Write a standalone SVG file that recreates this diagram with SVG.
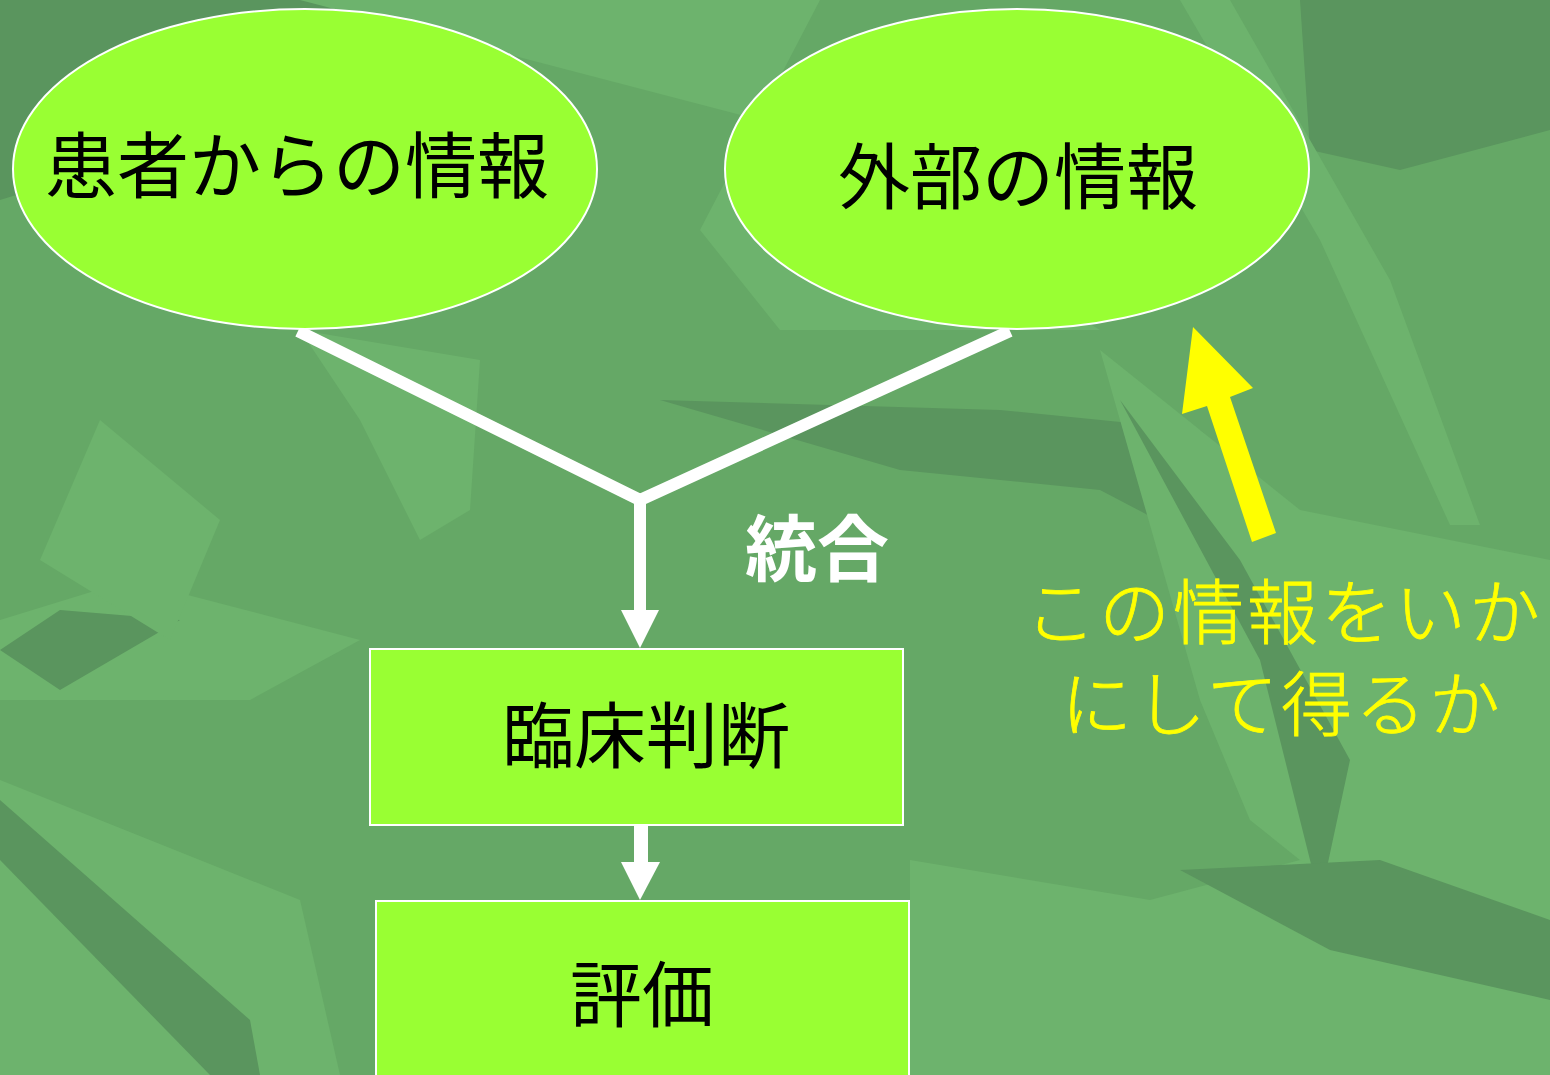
<svg xmlns="http://www.w3.org/2000/svg" width="1550" height="1075" viewBox="0 0 1550 1075">
<style>
.node{fill:#99ff33;stroke:#ffffff;stroke-width:2}
.lbl{font-family:"Noto Sans CJK JP","Noto Sans CJK SC",sans-serif;font-size:72px;fill:#000;text-anchor:middle}
.wlbl{font-family:"Noto Sans CJK JP",sans-serif;font-size:72px;font-weight:bold;fill:#fff;text-anchor:middle}
.ylbl{font-family:"Noto Sans CJK JP",sans-serif;font-size:71px;font-weight:300;fill:#ffff00;text-anchor:middle;letter-spacing:3px;stroke:#ffff00;stroke-width:0.8}
.leafL{fill:#6db36d}
.leafD{fill:#5a955e}
</style>
<g id="background">
<rect x="0" y="0" width="1550" height="1075" fill="#65a866"/>
<polygon class="leafD" points="0,0 420,0 260,120 0,200"/>
<polygon class="leafL" points="300,0 820,0 700,230 780,330 1100,330 1000,270 760,120"/>
<polygon class="leafD" points="1300,0 1550,0 1550,130 1400,170 1310,150"/>
<polygon class="leafL" points="1180,0 1230,0 1390,280 1480,525 1450,525 1320,240"/>
<polygon class="leafL" points="300,330 480,360 470,510 420,540 360,420"/>
<polygon class="leafD" points="660,400 1000,410 1200,430 1550,730 1550,760 1310,600 1100,490 900,470"/>
<polygon class="leafL" points="1100,350 1300,510 1550,560 1550,980 1400,940 1250,820 1200,700"/>
<polygon class="leafD" points="1120,400 1240,560 1350,760 1320,900 1260,660"/>
<polygon class="leafL" points="0,620 130,580 360,640 250,700 0,700"/>
<polygon class="leafD" points="0,650 60,610 180,620 60,690"/>
<polygon class="leafL" points="0,780 300,900 340,1075 0,1075"/>
<polygon class="leafD" points="0,800 250,1020 260,1075 210,1075 0,860"/>
<polygon class="leafL" points="910,860 1150,900 1300,860 1550,980 1550,1075 910,1075"/>
<polygon class="leafD" points="1180,870 1380,860 1550,920 1550,1000 1330,950"/>
<polygon class="leafL" points="100,420 220,520 170,640 40,560"/>
</g>
<g id="connectors" fill="none" stroke="#ffffff">
<polyline points="298,331 640,500 1010,331" stroke-width="12" stroke-linejoin="miter"/>
<line x1="640" y1="500" x2="640" y2="614" stroke-width="12"/>
<polygon points="621,610 659,610 640,648" fill="#ffffff" stroke="none"/>
<rect x="634" y="825" width="14" height="40" fill="#ffffff" stroke="none"/>
<polygon points="621,862 660,862 640,900" fill="#ffffff" stroke="none"/>
</g>
<g id="node-patient">
<ellipse class="node" cx="305" cy="169" rx="292" ry="160"/>
<text class="lbl" x="297" y="192">患者からの情報</text>
</g>
<g id="node-external">
<ellipse class="node" cx="1017" cy="169" rx="292" ry="160"/>
<text class="lbl" x="1018" y="203">外部の情報</text>
</g>
<g id="node-judgement">
<rect class="node" x="370" y="649" width="533" height="176"/>
<text class="lbl" x="646" y="762">臨床判断</text>
</g>
<g id="node-evaluation">
<rect class="node" x="376" y="901" width="533" height="190"/>
<text class="lbl" x="642" y="1021">評価</text>
</g>
<g id="label-integration">
<text class="wlbl" x="817" y="575">統合</text>
</g>
<g id="note">
<polygon points="1193,327 1253,388 1230,397 1276,533 1252,542 1207,406 1182,414" fill="#ffff00"/>
<text class="ylbl" x="1284" y="638">この情報をいか</text>
<text class="ylbl" x="1282" y="730">にして得るか</text>
</g>
</svg>
